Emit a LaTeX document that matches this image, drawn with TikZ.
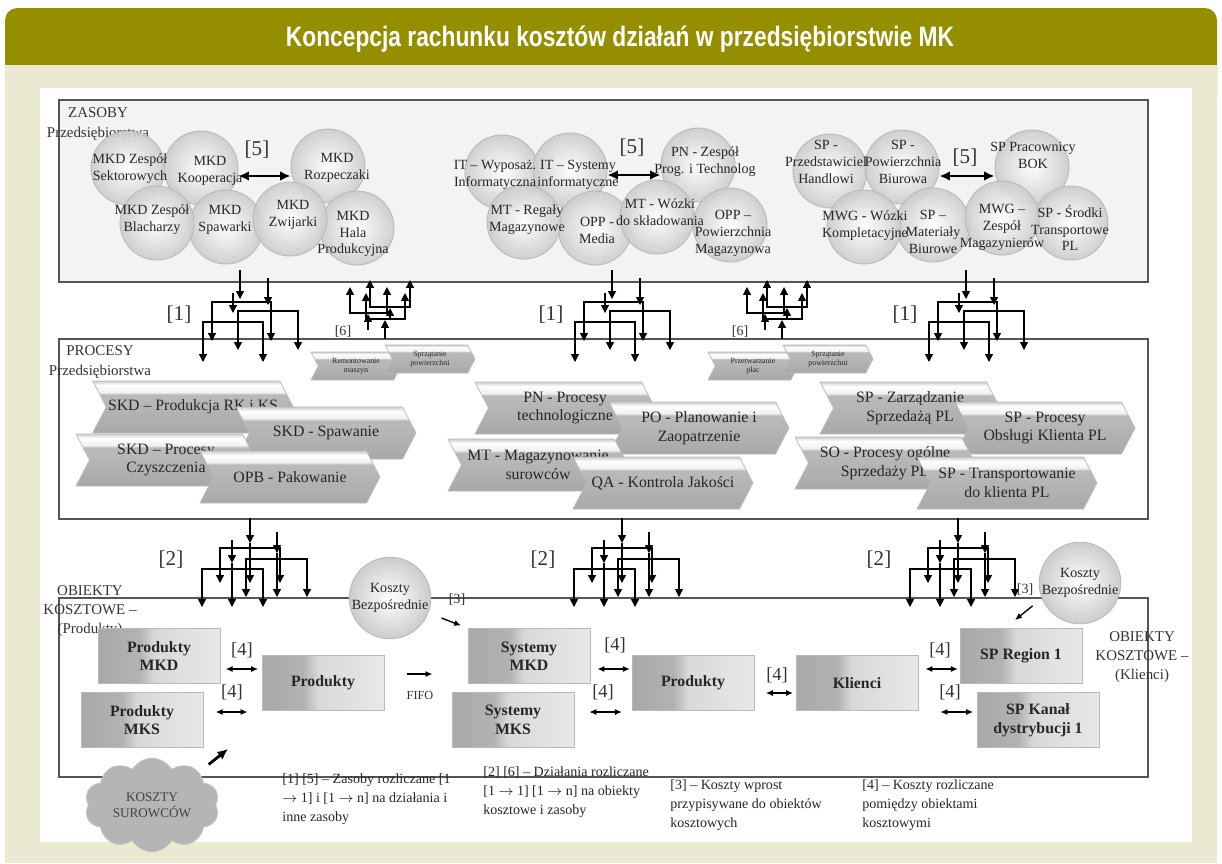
\documentclass[tikz,border=0pt]{standalone}
\usepackage{fontspec}
\setmainfont{Liberation Serif}
\newfontfamily\headfont{Liberation Sans}
\usepackage{graphicx}
\usepackage{tikz}
\usetikzlibrary{shapes.symbols}
\usetikzlibrary{arrows.meta}
\usetikzlibrary{calc}
\pgfdeclarelayer{nodelayer}
\pgfdeclarelayer{edgelayer}
\pgfsetlayers{edgelayer,main,nodelayer}
\definecolor{headolive}{RGB}{149,143,0}
\definecolor{creambg}{RGB}{236,233,211}
\definecolor{boxline}{RGB}{85,85,85}
\definecolor{zasfill}{RGB}{243,243,243}
\colorlet{chevdark}{gray!68}
\colorlet{chevmid}{gray!55}
\colorlet{chevlight}{gray!12}
\colorlet{chevedge}{gray!38}
\colorlet{objdark}{gray!68}
\colorlet{objmid}{gray!60}
\colorlet{objlight}{gray!30}
\colorlet{objpale}{gray!18}
\pgfdeclareverticalshading{chevshade}{100bp}{color(0bp)=(chevdark); color(25bp)=(chevdark); color(58bp)=(chevmid); color(62bp)=(chevmid); color(64bp)=(chevlight); color(71bp)=(white); color(75bp)=(chevedge); color(100bp)=(chevedge)}
\pgfdeclarehorizontalshading{objshade}{100bp}{color(0bp)=(objdark); color(25bp)=(objdark); color(42bp)=(objmid); color(48bp)=(objlight); color(75bp)=(objpale); color(100bp)=(objpale)}
\tikzset{
res/.style={circle, draw=gray!55, line width=0.5pt, inner color=white, outer color=gray!40,
  fill opacity=0.9, minimum size=1.48cm, inner sep=0pt},
restext/.style={align=center, inner sep=0pt, font=\fontsize{8}{9.6}\selectfont, text=black!85},
proc/.style={signal, signal to=east, signal from=west, signal pointer angle=125, draw=gray!55,
  shade, shading=chevshade, minimum width=3.6cm, minimum height=1.04cm, inner sep=1pt,
  align=center, font=\fontsize{9}{10.6}\selectfont, text=black!85},
smallproc/.style={proc, minimum width=1.8cm, minimum height=0.56cm, font=\fontsize{4.5}{5}\selectfont},
obj/.style={rectangle, draw=gray!55, shade, shading=objshade, minimum width=2.44cm,
  minimum height=1.1cm, align=center, font=\bfseries\fontsize{9}{10.5}\selectfont, text=black!85},
headtext/.style={text=white, inner sep=0pt, font=\headfont\bfseries\fontsize{16}{16}\selectfont},
bigtag/.style={font=\fontsize{12}{12}\selectfont, text=black!80, inner sep=0pt},
tag/.style={font=\fontsize{10.5}{10.5}\selectfont, text=black!80, inner sep=0pt},
smalltag/.style={font=\fontsize{8}{8}\selectfont, text=black!80, inner sep=0pt},
capt/.style={align=center, font=\fontsize{8.5}{11}\selectfont, text=black!80, inner sep=0pt},
legend/.style={align=left, anchor=north west, font=\fontsize{8}{10.8}\selectfont, text=black!85, inner sep=0pt},
panelbox/.style={draw=boxline, line width=0.8pt},
meshdown/.style={-{Triangle[width=4.5pt,length=4.5pt]}, line width=0.7pt},
meshboth/.style={{Triangle[width=4.5pt,length=4.5pt]}-{Triangle[width=4.5pt,length=4.5pt]}, line width=0.7pt},
twoway/.style={{Latex[length=4pt,width=3.5pt]}-{Latex[length=4pt,width=3.5pt]}, line width=0.8pt},
oneway/.style={-{Latex[length=4pt,width=3.5pt]}, line width=0.8pt},
heavyway/.style={{Latex[length=6pt,width=5.5pt]}-{Latex[length=6pt,width=5.5pt]}, line width=1.6pt},
heavyone/.style={-{Latex[length=6pt,width=5.5pt]}, line width=1.6pt}
}

\begin{document}
\begin{tikzpicture}[x=0.02cm, y=-0.02cm]
\useasboundingbox (0,0) rectangle (1222,863);
% tlo i naglowek
\fill[white] (0,0) rectangle (1222,863);
\fill[headolive, rounded corners=7] (5,8) rectangle (1217,110);
\fill[creambg] (5,65) rectangle (1217,863);
\fill[white] (40,88) rectangle (1192,842);
\node[headtext] (title) at (620,39) {\scalebox{0.81}[1]{Koncepcja rachunku kosztów działań w przedsiębiorstwie MK}};

% ramki
\draw[panelbox, fill=zasfill] (59,100) rectangle (1148,282);
\draw[panelbox] (59,339) rectangle (1148,519);
\draw[panelbox] (59,598) rectangle (1148,777);

\node[capt] (zaslab) at (98,124) {ZASOBY\\Przedsiębiorstwa};
\node[capt] (proclab) at (100,362) {PROCESY\\Przedsiębiorstwa};
\node[capt] (objlab) at (90,611) {OBIEKTY\\KOSZTOWE –\\(Produkty)};
\node[capt] (klilab) at (1142,657) {OBIEKTY\\KOSZTOWE –\\(Klienci)};

% zasoby
\node[res] (a1) at (128,168) {};
\node[res] (a2) at (201,168) {};
\node[res] (a3) at (328,166) {};
\node[res] (a7) at (357,228) {};
\node[res] (a5) at (226,227) {};
\node[res] (a4) at (157,223) {};
\node[res] (a6) at (290,219) {};
\node[res] (b1) at (502,172) {};
\node[res] (b2) at (570,170) {};
\node[res] (b3) at (698,165) {};
\node[res] (b7) at (730,225) {};
\node[res] (b5) at (595,228) {};
\node[res] (b4) at (524,222) {};
\node[res] (b6) at (657,217) {};
\node[res] (c1) at (830,171) {};
\node[res] (c2) at (902,167) {};
\node[res] (c3) at (1032,167) {};
\node[res] (c7) at (1071,223) {};
\node[res] (c5) at (933,225) {};
\node[res] (c4) at (864,227) {};
\node[res] (c6) at (1002,218) {};
\begin{pgfonlayer}{nodelayer}
\node[restext] (a1t) at (130,169) {MKD Zespół\\Sektorowych};
\node[restext] (a2t) at (210,171) {MKD\\Kooperacja};
\node[restext] (a3t) at (337,168) {MKD\\Rozpeczaki};
\node[restext] (a4t) at (152,220) {MKD Zespół\\Blacharzy};
\node[restext] (a5t) at (225,220) {MKD\\Spawarki};
\node[restext] (a6t) at (293,215) {MKD\\Zwijarki};
\node[restext] (a7t) at (353,234) {MKD\\Hala\\Produkcyjna};
\node[restext] (b1t) at (495,175) {IT – Wyposaż.\\Informatyczna};
\node[restext] (b2t) at (578,175) {IT – Systemy\\informatyczne};
\node[restext] (b3t) at (705,162) {PN - Zespół\\Prog. i Technolog};
\node[restext] (b4t) at (527,220) {MT - Regały\\Magazynowe};
\node[restext] (b5t) at (597,230) {OPP -\\Media};
\node[restext] (b6t) at (660,212) {MT - Wózki\\do składowania};
\node[restext] (b7t) at (733,233) {OPP –\\Powierzchnia\\Magazynowa};
\node[restext] (c1t) at (826,162) {SP -\\Przedstawiciel\\Handlowi};
\node[restext] (c2t) at (903,162) {SP -\\Powierzchnia\\Biurowa};
\node[restext] (c3t) at (1033,155) {SP Pracownicy\\BOK};
\node[restext] (c4t) at (865,226) {MWG - Wózki\\Kompletacyjne};
\node[restext] (c5t) at (933,232) {SP –\\Materiały\\Biurowe};
\node[restext] (c6t) at (1002,227) {MWG –\\Zespół\\Magazynierów};
\node[restext] (c7t) at (1070,228) {SP - Środki\\Transportowe\\PL};
\end{pgfonlayer}
\node[bigtag] (fivea) at (257,150) {[5]};
\node[bigtag] (fiveb) at (632,148) {[5]};
\node[bigtag] (fivec) at (965,158) {[5]};
\draw[heavyway] (a2.east |- 0,176) -- (a3.west |- 0,176);
\draw[heavyway] (b2.east |- 0,175) -- (b3.west |- 0,175);
\draw[heavyway] (c2.east |- 0,176) -- (c3.west |- 0,176);

% [1] zasoby -> procesy
\foreach \gx in {240,612,966} {
  \begin{scope}[shift={(\gx,282)}]
    \draw[meshdown] (0,-12) -- (0,17);
    \draw[meshdown] (28,-4) -- (28,23);
    \draw[meshdown] (-7,11) -- (-7,31);
    \draw[meshboth] (-28,59) -- (-28,20) -- (31,20) -- (31,59);
    \draw[meshboth] (-2,68) -- (-2,29) -- (58,29) -- (58,68);
    \draw[meshboth] (-37,80) -- (-37,40) -- (23,40) -- (23,80);
    \node[bigtag] (one\gx) at (-61,33) {[1]};
  \end{scope}
}
% [6] procesy -> zasoby
\foreach \gx in {368,765} {
  \begin{scope}[shift={(\gx,338)}]
    \draw[meshdown] (0,-8) -- (0,-24);
    \draw[meshdown] (17,1) -- (17,-18);
    \draw[meshdown] (22,-19) -- (22,-30);
    \draw[meshboth] (-18,-51) -- (-18,-25) -- (19,-25) -- (19,-51);
    \draw[meshboth] (2,-58) -- (2,-31) -- (42,-31) -- (42,-58);
    \draw[meshboth] (-2,-45) -- (-2,-19) -- (37,-19) -- (37,-45);
    \node[smalltag] (six\gx) at (-25,-6) {[6]};
  \end{scope}
}
% [2] procesy -> obiekty
\foreach \gx in {250,622,958} {
  \begin{scope}[shift={(\gx,520)}]
    \draw[meshdown] (0,-2) -- (0,23);
    \draw[meshdown] (0,23) -- (0,63);
    \draw[meshdown] (27,12) -- (27,33);
    \draw[meshdown] (27,33) -- (27,77);
    \draw[meshdown] (-18,20) -- (-18,43);
    \draw[meshdown] (-18,43) -- (-18,87);
    \draw[meshboth] (-30,63) -- (-30,28) -- (30,28) -- (30,63);
    \draw[meshboth] (-4,77) -- (-4,39) -- (57,39) -- (57,77);
    \draw[meshboth] (-48,87) -- (-48,49) -- (13,49) -- (13,87);
    \node[bigtag] (two\gx) at (-79,40) {[2]};
  \end{scope}
}

% procesy
\node[smallproc] (s1) at (356,366) {Remontowanie\\maszyn};
\node[smallproc] (s2) at (430,359) {Sprzątanie\\powierzchni};
\node[smallproc] (s3) at (753,366) {Przetwarzanie\\płac};
\node[smallproc] (s4) at (828,359) {Sprzątanie\\powierzchni};
\node[proc] (p1) at (193,407) {SKD – Produkcja RK i KS};
\node[proc] (p2) at (326,433) {SKD - Spawanie};
\node[proc] (p3) at (166,460) {SKD – Procesy\\Czyszczenia};
\node[proc] (p4) at (290,477) {OPB - Pakowanie};
\node[proc] (m1) at (565,408) {PN - Procesy\\technologiczne};
\node[proc] (m2) at (699,428) {PO - Planowanie i\\Zaopatrzenie};
\node[proc] (m3) at (538,465) {MT - Magazynowanie\\surowców};
\node[proc] (m4) at (663,483) {QA - Kontrola Jakości};
\node[proc] (r1) at (910,408) {SP - Zarządzanie\\Sprzedażą PL};
\node[proc] (r2) at (1045,428) {SP - Procesy\\Obsługi Klienta PL};
\node[proc] (r3) at (885,463) {SO - Procesy ogólne\\Sprzedaży PL};
\node[proc] (r4) at (1007,483) {SP - Transportowanie\\do klienta PL};

% obiekty kosztowe
\node[obj] (pmkd) at (159,656) {Produkty\\MKD};
\node[obj] (pmks) at (142,720) {Produkty\\MKS};
\node[obj] (pprodl) at (323,683) {Produkty};
\node[obj] (smkd) at (529,656) {Systemy\\MKD};
\node[obj] (smks) at (513,720) {Systemy\\MKS};
\node[obj] (pprodm) at (693,683) {Produkty};
\node[obj] (klienci) at (857,683) {Klienci};
\node[obj] (sreg) at (1021,656) {SP Region 1};
\node[obj] (skan) at (1038,720) {SP Kanał\\dystrybucji 1};

\draw[twoway, shorten <=3pt, shorten >=2pt] (pmkd.east |- 0,669) -- (pprodl.west |- 0,669);
\draw[twoway, shorten <=7pt, shorten >=8pt] (pmks.east |- 0,712) -- (pprodl.west |- 0,712);
\draw[twoway, shorten <=4pt, shorten >=1pt] (smkd.east |- 0,669) -- (pprodm.west |- 0,669);
\draw[twoway, shorten <=8.5pt, shorten >=5.5pt] (smks.east |- 0,712) -- (pprodm.west |- 0,712);
\draw[twoway, shorten <=6.5pt, shorten >=1.5pt] (pprodm.east |- 0,693) -- (klienci.west |- 0,693);
\draw[twoway, shorten <=4pt, shorten >=1pt] (klienci.east |- 0,669) -- (sreg.west |- 0,669);
\draw[twoway, shorten <=12.5pt, shorten >=2pt] (klienci.east |- 0,712) -- (skan.west |- 0,712);
\node[tag] (foura) at (242,650) {[4]};
\node[tag] (fourb) at (232,692) {[4]};
\node[tag] (fourc) at (615,645) {[4]};
\node[tag] (fourd) at (603,692) {[4]};
\node[tag] (foure) at (777,675) {[4]};
\node[tag] (fourf) at (940,650) {[4]};
\node[tag] (fourg) at (950,692) {[4]};

\draw[oneway, shorten <=13pt, shorten >=20pt] (pprodl.east |- 0,674) -- (smkd.west |- 0,674);
\node[smalltag, font=\fontsize{7}{7}\selectfont] (fifo) at (420,695) {FIFO};

% koszty bezposrednie
\node[res, fill opacity=1, minimum size=1.42cm, align=center, font=\fontsize{8}{9.6}\selectfont, text=black!85] (kbl) at (390,598) {Koszty\\Bezpośrednie};
\node[res, fill opacity=1, minimum size=1.42cm, align=center, font=\fontsize{8}{9.6}\selectfont, text=black!85] (kbr) at (1080,583) {Koszty\\Bezpośrednie};
\node[smalltag] (threel) at (457,600) {[3]};
\node[smalltag] (threer) at (1025,590) {[3]};
\coordinate (k3tip) at (1015,620);
\draw[oneway, shorten <=8pt, shorten >=4pt] (kbl) -- (smkd.north west);
\draw[oneway, shorten <=6.7pt] (kbr.202) -- (k3tip);

% koszty surowcow
\node[cloud, cloud puffs=10, cloud puff arc=120, aspect=1.7, fill=gray!58, draw=gray!45,
  minimum width=2.14cm, minimum height=1.26cm, align=center,
  font=\fontsize{7.5}{9}\selectfont, text=black!75] (surowce) at (152,805) {KOSZTY\\SUROWCÓW};
\coordinate (surtip) at (228,749);
\draw[heavyone, shorten <=7pt] (surowce.north east) -- (surtip);

% legenda
\node[legend] (leg1) at (282,773) {[1] [5] – Zasoby rozliczane [1\\$\rightarrow$ 1] i [1 $\rightarrow$ n] na działania i\\inne zasoby};
\node[legend] (leg2) at (483,766) {[2] [6] – Działania rozliczane\\{}[1 $\rightarrow$ 1] [1 $\rightarrow$ n] na obiekty\\kosztowe i zasoby};
\node[legend] (leg3) at (670,779) {[3] – Koszty wprost\\przypisywane do obiektów\\kosztowych};
\node[legend] (leg4) at (862,779) {[4] – Koszty rozliczane\\pomiędzy obiektami\\kosztowymi};
\end{tikzpicture}
\end{document}
